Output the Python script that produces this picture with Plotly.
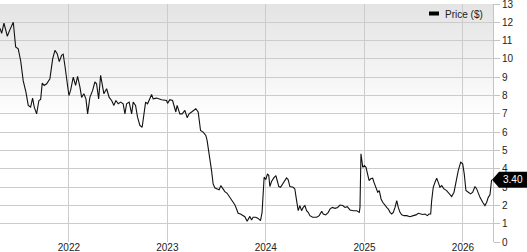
import numpy as np
import pandas as pd
import plotly.graph_objects as go

# Position along time axis (decimal years)
year_pos = [
    2021.300, 2021.317, 2021.340, 2021.374, 2021.401, 2021.435, 2021.459, 2021.485, 2021.510, 2021.536,
    2021.563, 2021.587, 2021.611, 2021.631, 2021.648, 2021.672, 2021.695, 2021.713, 2021.729, 2021.749,
    2021.774, 2021.807, 2021.835, 2021.858, 2021.881, 2021.902, 2021.926, 2021.942, 2021.959, 2021.977,
    2022.000, 2022.017, 2022.044, 2022.068, 2022.088, 2022.112, 2022.129, 2022.152, 2022.173, 2022.190,
    2022.213, 2022.241, 2022.264, 2022.281, 2022.302, 2022.322, 2022.355, 2022.383, 2022.409, 2022.434,
    2022.457, 2022.477, 2022.501, 2022.525, 2022.551, 2022.569, 2022.586, 2022.612, 2022.637, 2022.653,
    2022.677, 2022.697, 2022.721, 2022.744, 2022.764, 2022.779, 2022.799, 2022.815, 2022.840, 2022.856,
    2022.890, 2022.941, 2022.992, 2023.002, 2023.025, 2023.053, 2023.086, 2023.099, 2023.127, 2023.150,
    2023.178, 2023.201, 2023.221, 2023.246, 2023.269, 2023.289, 2023.313, 2023.337, 2023.363, 2023.391,
    2023.404, 2023.414, 2023.431, 2023.449, 2023.465, 2023.482, 2023.506, 2023.526, 2023.543, 2023.566,
    2023.584, 2023.607, 2023.635, 2023.662, 2023.685, 2023.703, 2023.719, 2023.743, 2023.763, 2023.787,
    2023.810, 2023.827, 2023.838, 2023.855, 2023.871, 2023.898, 2023.922, 2023.946, 2023.962, 2023.983,
    2024.000, 2024.017, 2024.030, 2024.041, 2024.058, 2024.081, 2024.102, 2024.115, 2024.132, 2024.149,
    2024.170, 2024.193, 2024.210, 2024.226, 2024.244, 2024.277, 2024.294, 2024.312, 2024.328, 2024.345,
    2024.362, 2024.379, 2024.396, 2024.413, 2024.429, 2024.447, 2024.474, 2024.515, 2024.541, 2024.566,
    2024.582, 2024.606, 2024.633, 2024.650, 2024.673, 2024.701, 2024.728, 2024.751, 2024.779, 2024.802,
    2024.825, 2024.853, 2024.886, 2024.921, 2024.947, 2024.954, 2024.964, 2024.982, 2024.998, 2025.015,
    2025.032, 2025.046, 2025.063, 2025.083, 2025.096, 2025.117, 2025.134, 2025.150, 2025.168, 2025.185,
    2025.208, 2025.225, 2025.242, 2025.259, 2025.276, 2025.292, 2025.310, 2025.327, 2025.343, 2025.360,
    2025.378, 2025.401, 2025.428, 2025.462, 2025.495, 2025.523, 2025.546, 2025.563, 2025.591, 2025.614,
    2025.638, 2025.655, 2025.672, 2025.682, 2025.698, 2025.716, 2025.733, 2025.749, 2025.766, 2025.784,
    2025.807, 2025.834, 2025.861, 2025.885, 2025.909, 2025.929, 2025.952, 2025.977, 2025.997, 2026.013,
    2026.030, 2026.054, 2026.078, 2026.099, 2026.122, 2026.139, 2026.155, 2026.173, 2026.200, 2026.223,
    2026.241, 2026.257, 2026.274, 2026.291,
]

price = [
    11.67, 11.40, 11.96, 11.24, 11.60, 12.00, 10.65, 10.55, 9.90, 8.80,
    8.20, 7.46, 7.37, 7.86, 7.37, 7.00, 7.73, 7.79, 8.68, 8.55,
    8.64, 8.92, 10.00, 10.47, 10.29, 9.85, 10.20, 10.26, 9.64, 8.82,
    8.00, 8.28, 9.00, 8.55, 9.05, 8.46, 7.90, 8.10, 7.82, 7.00,
    7.90, 8.28, 8.74, 8.64, 7.82, 9.10, 8.10, 8.37, 7.90, 7.73,
    7.46, 7.73, 7.55, 7.64, 7.55, 7.00, 7.55, 7.64, 7.00, 7.64,
    7.46, 6.82, 6.37, 6.27, 7.00, 7.64, 7.55, 7.73, 8.06, 7.82,
    7.86, 7.77, 7.73, 7.57, 7.77, 7.73, 7.10, 7.46, 7.00, 7.00,
    7.19, 6.79, 7.00, 7.10, 7.19, 7.28, 7.10, 6.09, 6.00, 5.82,
    5.54, 5.18, 4.72, 3.90, 3.17, 2.96, 2.90, 2.85, 3.08, 2.90,
    2.75, 2.66, 2.44, 2.26, 2.04, 1.80, 1.57, 1.53, 1.48, 1.38,
    1.13, 1.31, 1.40, 1.20, 1.35, 1.35, 1.29, 1.17, 1.62, 3.54,
    3.41, 3.72, 3.63, 3.03, 3.30, 3.50, 3.63, 3.36, 3.03, 2.99,
    3.17, 3.36, 3.50, 3.41, 3.03, 2.99, 2.90, 2.26, 1.71, 1.99,
    1.71, 1.89, 1.99, 1.71, 1.62, 1.44, 1.35, 1.35, 1.44, 1.68,
    1.53, 1.48, 1.62, 1.80, 1.89, 1.84, 1.89, 2.02, 1.99, 1.89,
    1.93, 1.75, 1.71, 1.71, 1.62, 1.89, 4.82, 4.08, 4.18, 4.08,
    3.72, 3.36, 3.45, 3.48, 3.26, 2.99, 2.72, 2.81, 2.35, 2.17,
    1.99, 1.89, 1.80, 1.62, 1.53, 1.62, 1.89, 2.26, 1.89, 1.62,
    1.49, 1.44, 1.44, 1.38, 1.44, 1.48, 1.57, 1.53, 1.50, 1.53,
    1.44, 1.53, 1.53, 2.26, 2.99, 3.26, 3.48, 3.26, 2.99, 3.08,
    2.90, 2.81, 2.63, 2.48, 2.72, 3.26, 3.90, 4.36, 4.27, 3.72,
    2.81, 2.72, 2.63, 2.72, 3.03, 2.90, 2.63, 2.44, 2.17, 1.99,
    2.17, 2.44, 2.58, 3.40,
]

year_ticks = [2022, 2023, 2024, 2025, 2026]
x_range_years = [2021.300, 2026.305]
y_ticks = list(range(0, 14))
series_name = "Price ($)"


def to_date(t):
    y = int(np.floor(t))
    start = pd.Timestamp(year=y, month=1, day=1)
    span = (pd.Timestamp(year=y + 1, month=1, day=1) - start).days
    return start + pd.Timedelta(days=(t - y) * span)


dates = [to_date(t) for t in year_pos]
y_min, y_max = 0, 13

fig = go.Figure()
fig.add_trace(go.Scatter(
    x=dates, y=price, mode="lines", name=series_name,
    line=dict(color="#111111", width=1.1), showlegend=False,
))

shapes = []
# vertical background gradient (grey at top fading to white)
g0 = 0.52
n = 40
top = np.array([0xe4, 0xe4, 0xe4])
white = np.array([255, 255, 255])
for i in range(n):
    f = (i + 1) / n
    c = (white + (top - white) * f).round().astype(int)
    shapes.append(dict(
        type="rect", xref="paper", yref="paper", layer="below",
        x0=0, x1=1, y0=g0 + (1 - g0) * i / n, y1=1,
        fillcolor=f"rgb({c[0]},{c[1]},{c[2]})", line=dict(width=0),
    ))

# legend swatch
shapes.append(dict(
    type="rect", xref="paper", yref="paper", layer="above",
    xsizemode="pixel", ysizemode="pixel", xanchor=429 / 493, yanchor=1,
    x0=0, x1=10, y0=-7.5, y1=-11.5,
    fillcolor="#000000", line=dict(width=0),
))

# last price tag
last = price[-1]
shapes.append(dict(
    type="path", xref="paper", yref="paper", layer="above",
    xsizemode="pixel", ysizemode="pixel", xanchor=1, yanchor=(last - y_min) / (y_max - y_min),
    path="M -1,0 L 6,8 L 36,8 L 36,-8 L 6,-8 Z",
    fillcolor="#000000", line=dict(width=0),
))

annotations = [
    dict(xref="paper", yref="y", x=1, y=last, xanchor="left", yanchor="middle",
         xshift=8, text=f"{last:.2f}", showarrow=False,
         font=dict(family="Liberation Sans, Arial, sans-serif", size=10, color="#ffffff")),
    dict(xref="paper", yref="paper", x=443 / 493, y=1, xanchor="left", yanchor="middle",
         yshift=-10, text=series_name, showarrow=False,
         font=dict(family="Liberation Sans, Arial, sans-serif", size=10, color="#222222")),
]

fig.update_layout(
    width=527, height=252,
    margin=dict(l=0, r=34, t=4, b=10, autoexpand=False),
    paper_bgcolor="#ffffff", plot_bgcolor="#ffffff",
    font=dict(family="Liberation Sans, Arial, sans-serif", size=10, color="#222222"),
    shapes=shapes, annotations=annotations,
    xaxis=dict(
        type="date",
        range=[to_date(x_range_years[0]), to_date(x_range_years[1])],
        tickvals=[pd.Timestamp(year=y, month=1, day=1) for y in year_ticks],
        ticktext=[str(y) for y in year_ticks],
        showgrid=True, gridcolor="#cccccc", gridwidth=1,
        ticks="", showline=False, zeroline=False,
        tickfont=dict(size=10, color="#222222"),
        ticklabelstandoff=-2, ticklabeloverflow="allow",
        automargin=False,
    ),
    yaxis=dict(
        range=[y_min, y_max], side="right",
        tickvals=y_ticks, ticktext=[str(v) for v in y_ticks],
        showgrid=True, gridcolor="#cccccc", gridwidth=1,
        ticks="outside", ticklen=6, tickcolor="#c4c4c4",
        showline=True, linecolor="#c4c4c4", zeroline=False,
        tickfont=dict(size=10, color="#222222"),
        ticklabeloverflow="allow",
        automargin=False,
    ),
    showlegend=False,
)

fig.write_html("out.html")
